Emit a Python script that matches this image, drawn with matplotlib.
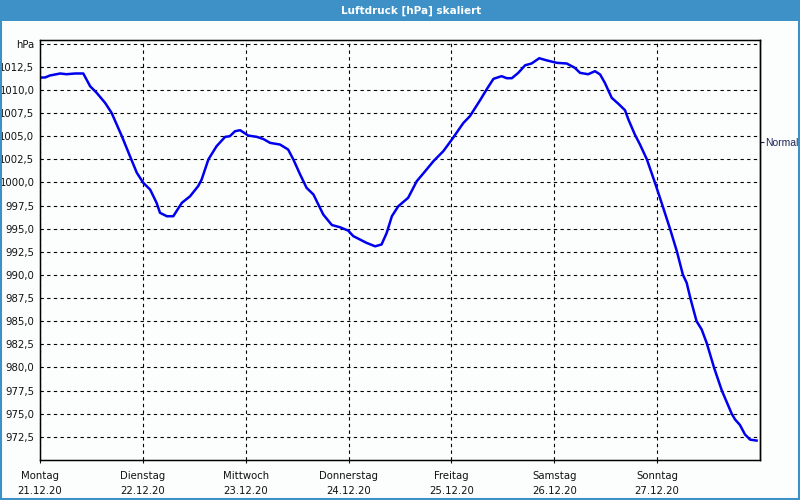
import numpy as np
import matplotlib.pyplot as plt
from matplotlib.patches import Rectangle

# Stunden seit Montag 00:00 und Luftdruck in hPa
hours = [0, 1.2, 2.3, 4.7, 6.2, 8.2, 10.1, 11.7, 13.2, 15.2, 16.7, 19.1, 21.0, 22.6,
         24.1, 25.7, 27.2, 28.0, 29.6, 31.1, 33.1, 35.0, 36.9, 37.7, 39.3, 41.2,
         43.2, 44.3, 45.5, 46.7, 48.6, 50.6, 52.1, 53.7, 56.0, 57.9, 59.1, 60.7,
         62.2, 63.8, 66.1, 68.1, 70.0, 71.9, 73.1, 76.2, 78.2, 79.7, 80.9, 82.1,
         83.6, 85.9, 87.9, 90.2, 91.8, 94.1, 96.1, 98.8, 100.3, 102.7, 104.2,
         105.8, 107.7, 108.9, 110.1, 111.6, 113.2, 114.7, 116.5, 118.2, 120.6,
         122.9, 124.8, 126.0, 127.9, 129.5, 130.7, 131.8, 133.4, 134.9, 136.5,
         137.3, 138.8, 140.0, 141.6, 143.5, 145.3, 147.0, 148.6, 150.0, 150.9,
         151.8, 153.2, 154.4, 155.6, 157.3, 159.1, 161.4, 162.2, 163.3, 164.5,
         165.7, 167.2]
pressure = [1011.34, 1011.35, 1011.56, 1011.78, 1011.7, 1011.78, 1011.78, 1010.4,
            1009.7, 1008.6, 1007.53, 1005.0, 1002.83, 1001.04, 999.96, 999.23,
            997.8, 996.72, 996.35, 996.35, 997.8, 998.5, 999.6, 1000.3, 1002.5,
            1003.92, 1004.93, 1005.0, 1005.54, 1005.65, 1005.07, 1004.93, 1004.7,
            1004.28, 1004.1, 1003.56, 1002.5, 1000.86, 999.42, 998.7, 996.53,
            995.4, 995.16, 994.8, 994.2, 993.47, 993.1, 993.3, 994.55, 996.35,
            997.43, 998.34, 1000.13, 1001.4, 1002.3, 1003.38, 1004.64, 1006.44,
            1007.16, 1008.9, 1010.05, 1011.2, 1011.49, 1011.27, 1011.27, 1011.85,
            1012.67, 1012.86, 1013.43, 1013.2, 1012.93, 1012.86, 1012.39, 1011.85,
            1011.7, 1012.03, 1011.67, 1010.77, 1009.15, 1008.53, 1007.81, 1006.8,
            1005.18, 1004.1, 1002.5, 999.96, 997.43, 995.0, 992.56, 990.04,
            989.14, 987.4, 985.0, 984.1, 982.6, 979.95, 977.5, 975.0, 974.37,
            973.8, 972.76, 972.2, 972.1]

days = ['Montag', 'Dienstag', 'Mittwoch', 'Donnerstag', 'Freitag', 'Samstag', 'Sonntag']
dates = ['21.12.20', '22.12.20', '23.12.20', '24.12.20', '25.12.20', '26.12.20', '27.12.20']
y_ticks = [972.5, 975.0, 977.5, 980.0, 982.5, 985.0, 987.5, 990.0, 992.5, 995.0,
           997.5, 1000.0, 1002.5, 1005.0, 1007.5, 1010.0, 1012.5, 1015.0]
normal = 1004.4

bg = '#fcfefd'
blue = '#3d91c6'

fig = plt.figure(figsize=(8, 5), dpi=100, facecolor=bg)
ax = fig.add_axes([0.05, 0.08, 0.9, 0.84], facecolor=bg)

x = np.array(hours) / 24.0
ax.plot(x, pressure, color='#0000ee', lw=1.8, solid_joinstyle='round')

ax.set_xlim(0, 7)
ax.set_ylim(970.0, 1015.4)

ax.set_yticks(y_ticks)
ax.set_yticklabels([f'{v:.1f}'.replace('.', ',') for v in y_ticks[:-1]] + ['hPa'])
ax.set_xticks(range(len(days)))
ax.set_xticklabels([d + '\n' + t for d, t in zip(days, dates)], linespacing=1.6)
ax.tick_params(axis='y', length=0, pad=4, labelsize=7.3, colors='#111111')
ax.tick_params(axis='x', length=2, pad=6, labelsize=7.3, colors='#111111')

ax.grid(True, color='black', linestyle=(0, (3, 3)), lw=0.8)
for s in ax.spines.values():
    s.set_linewidth(1.0)

# rechte Achse mit "Normal"
ax2 = ax.twinx()
ax2.set_ylim(ax.get_ylim())
ax2.set_yticks([normal])
ax2.set_yticklabels(['Normal'], family='Liberation Sans', fontsize=7.5)
ax2.tick_params(axis='y', length=3, pad=0.5, colors='#1c2458')
ax2.spines['right'].set_linewidth(1.0)

# Titelleiste und Rahmen
fig.patches.append(Rectangle((0, 0.959), 1, 0.041, transform=fig.transFigure,
                             facecolor=blue, edgecolor='none', zorder=0))
fig.patches.append(Rectangle((0.001, 0.002), 0.998, 0.996, transform=fig.transFigure,
                             facecolor='none', edgecolor=blue, lw=1.5, zorder=1))
fig.text(0.514, 0.979, 'Luftdruck [hPa] skaliert', color='white', fontsize=7.5,
         fontweight='bold', ha='center', va='center')

fig.savefig('out.png', dpi=100, facecolor=bg)
